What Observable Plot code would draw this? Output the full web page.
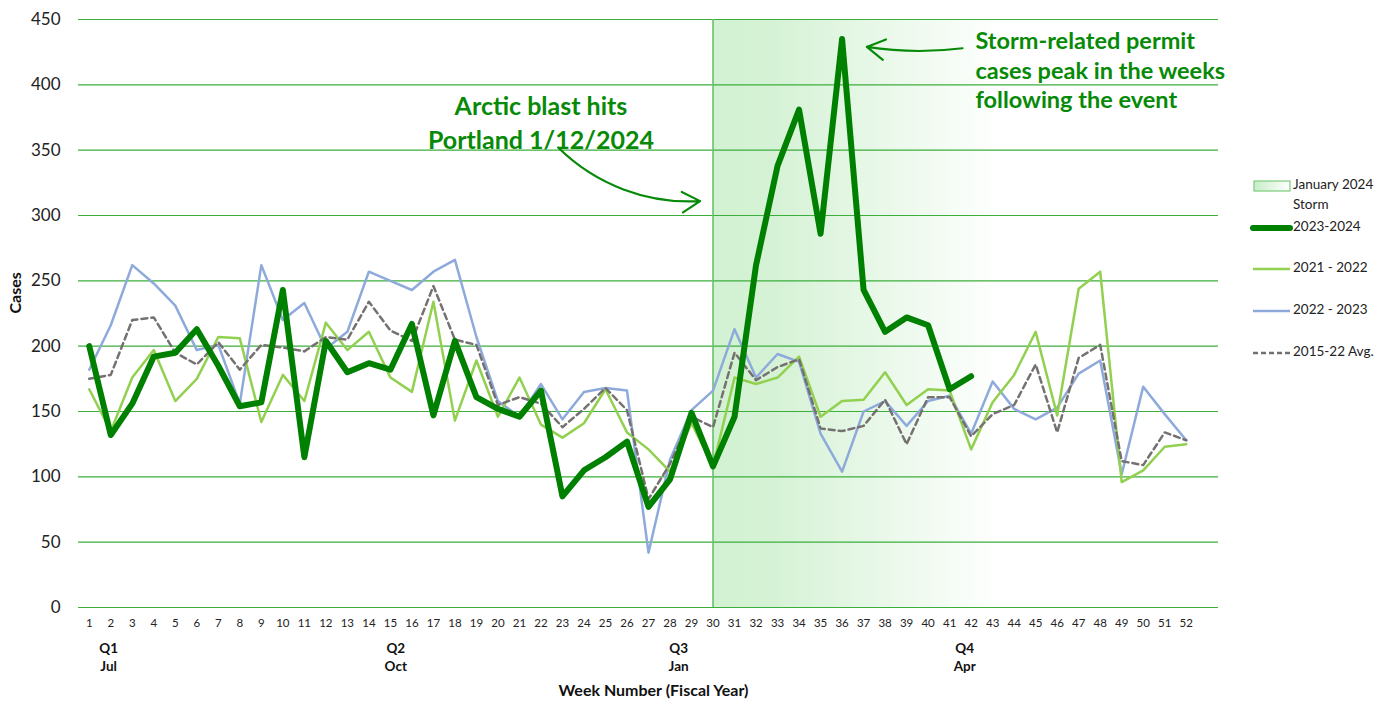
<!DOCTYPE html>
<html>
<head>
<meta charset="utf-8">
<script src="https://cdn.jsdelivr.net/npm/d3@7"></script>
<script src="https://cdn.jsdelivr.net/npm/@observablehq/plot@0.6"></script>
<style>
  html, body { margin: 0; padding: 0; background: #fff; }
  #wrap { position: relative; width: 1397px; height: 706px; font-family: Lato, "Open Sans", sans-serif; }
  #legend { position: absolute; left: 1250px; top: 172px; }
</style>
</head>
<body>
<div id="wrap"><div id="chart"></div><div id="legend"></div></div>
<script>
// ---- data ----
const weeks = [1,2,3,4,5,6,7,8,9,10,11,12,13,14,15,16,17,18,19,20,21,22,23,24,25,26,
               27,28,29,30,31,32,33,34,35,36,37,38,39,40,41,42,43,44,45,46,47,48,49,50,51,52];
const yTicks = [0,50,100,150,200,250,300,350,400,450];

const s2324 = [200,132,156,192,195,213,185,154,157,243,115,204,180,
               187,182,217,147,204,161,152,146,166,85,105,115,127,
               77,98,149,108,146,262,338,381,286,435,243,211,222,
               216,167,177];
const s2122 = [167,135,176,197,158,175,207,206,142,178,158,218,197,
               211,176,165,234,143,189,146,176,140,130,141,167,134,
               121,104,141,108,176,171,176,192,146,158,159,180,155,
               167,166,121,157,178,211,147,244,257,96,105,123,125];
const s2223 = [182,216,262,248,231,197,201,156,262,220,233,198,211,
               257,250,243,257,266,207,158,146,171,144,165,168,166,
               42,113,151,166,213,176,194,188,133,104,150,158,139,
               158,162,133,173,152,144,153,179,189,102,169,148,128];
const sAvg  = [175,178,220,222,195,186,203,182,201,199,196,207,205,
               234,212,204,246,205,201,155,161,156,138,152,168,151,
               83,110,146,138,195,174,184,190,137,135,139,159,125,
               161,161,131,148,155,186,134,191,201,112,109,134,128];

const quarterLabels = ["Q1\nJul","Q2\nOct","Q3\nJan","Q4\nApr"];
const quarterWeeks  = [1.9, 15.25, 28.4, 41.7];

const stormStart = 30, stormFadeEnd = 43.5;

const arcticText = "Arctic blast hits\nPortland 1/12/2024";
const arcticPos = {x: 22.0, y: 372};
const arcticArrow = {x1: 22.8, y1: 352, x2: 29.4, y2: 311};
const peakText = "Storm-related permit\ncases peak in the weeks\nfollowing the event";
const peakPos = {x: 42.2, y: 412};
const peakArrow = {x1: 41.6, y1: 428, x2: 37.15, y2: 429};

// ---- build ----
const toRows = arr => arr.map((v, i) => ({week: weeks[i], v}));
const GREEN = "#078a07";

const chart = Plot.plot({
  width: 1397, height: 706,
  marginLeft: 78, marginRight: 179, marginTop: 19, marginBottom: 99,
  style: {fontFamily: "Lato, 'Open Sans', sans-serif", background: "#fff"},
  x: {domain: [0.5, 53.5], axis: null},
  y: {domain: [0, 450], axis: null},
  marks: [
    Plot.rect([{a: stormStart, b: stormFadeEnd}], {x1: "a", x2: "b", y1: 0, y2: 450, fill: "url(#stormGrad)"}),
    Plot.gridY(yTicks, {stroke: "#3cae3c", strokeOpacity: 1, strokeWidth: 1.2}),
    Plot.ruleX([stormStart], {y1: 0, y2: 450, stroke: "#6cc06c", strokeWidth: 1.6}),
    Plot.axisY(yTicks, {tickSize: 0, tickPadding: 18, fontSize: 17, label: null, fill: "#222"}),
    Plot.axisX(weeks, {tickSize: 0, tickPadding: 11, fontSize: 11.5, label: null, fill: "#222"}),
    Plot.text(quarterLabels.map((t, i) => ({t, w: quarterWeeks[i]})),
      {x: "w", y: 0, text: "t", dy: 33, lineAnchor: "top", fontWeight: "bold", fontSize: 13.5, lineHeight: 1.33, fill: "#111"}),
    Plot.text(["Week Number (Fiscal Year)"], {frameAnchor: "bottom", dy: 88, dx: 5, fontWeight: "bold", fontSize: 16, fill: "#111"}),
    Plot.text(["Cases"], {frameAnchor: "left", dx: -63, rotate: -90, fontWeight: "bold", fontSize: 16, fill: "#111"}),
    Plot.line(toRows(s2223), {x: "week", y: "v", stroke: "#8eaadb", strokeWidth: 2.5}),
    Plot.line(toRows(s2122), {x: "week", y: "v", stroke: "#92d050", strokeWidth: 2.5}),
    Plot.line(toRows(sAvg), {x: "week", y: "v", stroke: "#767171", strokeWidth: 2.5, strokeDasharray: "6,4"}),
    Plot.line(toRows(s2324), {x: "week", y: "v", stroke: "#008000", strokeWidth: 6}),
    Plot.text([arcticText], {x: arcticPos.x, y: arcticPos.y, fontSize: 25, fontWeight: "bold", fill: GREEN, lineHeight: 1.36}),
    Plot.arrow([arcticArrow], {x1: "x1", y1: "y1", x2: "x2", y2: "y2", bend: -24, stroke: GREEN, strokeWidth: 2.2, headLength: 14}),
    Plot.text([peakText], {x: peakPos.x, y: peakPos.y, textAnchor: "start", fontSize: 23.5, fontWeight: "bold", fill: GREEN, lineHeight: 1.255}),
    Plot.arrow([peakArrow], {x1: "x1", y1: "y1", x2: "x2", y2: "y2", bend: 8, stroke: GREEN, strokeWidth: 2.2, headLength: 14})
  ]
});

const ns = "http://www.w3.org/2000/svg";
const defs = document.createElementNS(ns, "defs");
defs.innerHTML = `<linearGradient id="stormGrad" x1="0" x2="1" y1="0" y2="0">
  <stop offset="0" stop-color="#d2f1d2"/>
  <stop offset="0.22" stop-color="#d6f2d6"/>
  <stop offset="1" stop-color="#ffffff"/>
</linearGradient>`;
chart.insertBefore(defs, chart.firstChild);
document.getElementById("chart").appendChild(chart);

// ---- legend ----
const legendItems = [
  {label: "January 2024\nStorm", kind: "storm"},
  {label: "2023-2024", kind: "line", color: "#008000", w: 6},
  {label: "2021 - 2022", kind: "line", color: "#92d050", w: 2.5},
  {label: "2022 - 2023", kind: "line", color: "#8eaadb", w: 2.5},
  {label: "2015-22  Avg.", kind: "dash", color: "#767171", w: 2.5}
];
const legendY = [14, 56, 97, 139, 181];
const lg = d3.select("#legend").append("svg").attr("width", 147).attr("height", 200)
  .style("font-family", "Lato, 'Open Sans', sans-serif");
const lgDefs = lg.append("defs").append("linearGradient").attr("id", "legGrad");
lgDefs.append("stop").attr("offset", 0).attr("stop-color", "#c8eec8");
lgDefs.append("stop").attr("offset", 1).attr("stop-color", "#ffffff");
legendItems.forEach((d, i) => {
  const y = legendY[i];
  if (d.kind === "storm") {
    lg.append("rect").attr("x", 4).attr("y", y - 5).attr("width", 36).attr("height", 10)
      .attr("fill", "url(#legGrad)").attr("stroke", "#7ccc7c").attr("stroke-width", 1.2);
  } else {
    lg.append("line").attr("x1", 3).attr("x2", 40).attr("y1", y).attr("y2", y)
      .attr("stroke", d.color).attr("stroke-width", d.w).attr("stroke-linecap", d.kind === "line" && d.w > 4 ? "round" : "butt")
      .attr("stroke-dasharray", d.kind === "dash" ? "5,3" : null);
  }
  const t = lg.append("text").attr("x", 43).attr("y", y).attr("font-size", 13.5).attr("fill", "#222")
    .attr("dominant-baseline", "middle");
  d.label.split("\n").forEach((s, j) => t.append("tspan").attr("x", 43).attr("dy", j ? 20 : 0).text(s));
});
</script>
</body>
</html>
